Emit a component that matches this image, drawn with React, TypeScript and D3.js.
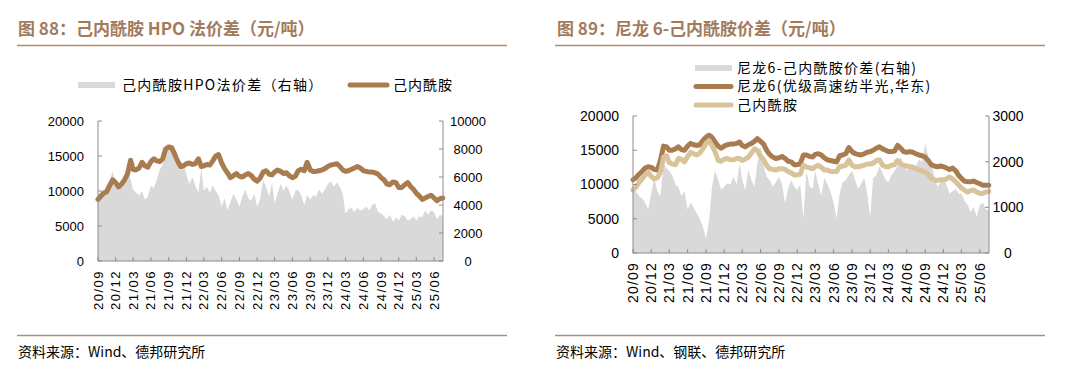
import React from "react";
import * as d3 from "d3";

// semi-monthly observations, first point 2020-09-01, then the 16th, then next month's 1st ...
const cplLeft = [
  8800, 9300, 9700, 9900, 10800, 11600, 11200, 10600, 11000, 11600,
  12500, 14400, 13100, 13000, 13300, 14100, 13600, 13400, 14200, 14600,
  14300, 14200, 14600, 16000, 16300, 16200, 15300, 14300, 13500, 13600,
  13900, 14000, 13800, 13900, 14600, 13500, 13600, 13800, 13700, 14300,
  15000, 15200, 14000, 13200, 12600, 11900, 12200, 12500, 12100, 12000,
  12300, 12500, 12200, 11700, 11400, 11800, 12700, 12900, 12400, 12300,
  12700, 13000, 12800, 12500, 12600, 12200, 11900, 12100, 12900, 13100,
  12900, 14100, 13000, 12800, 12800, 12900, 13000, 13200, 13500, 13700,
  13800, 13900, 13500, 13000, 12800, 12900, 13100, 13300, 13500, 13300,
  12900, 12800, 12700, 12700, 12600, 12400, 11900, 11600, 11000, 10900,
  11300, 11200, 10500, 10500, 10900, 11200, 10600, 10200, 9700, 9300,
  8800, 9000, 9200, 9400, 9000, 8600, 8900, 9000,
];

const hpoSpread = [
  4600, 4700, 5000, 5400, 5800, 6400, 5300, 5100, 5600, 5400,
  6900, 5800, 5100, 4900, 4700, 5000, 4400, 4600, 5400, 5200,
  5800, 6500, 6900, 7600, 8200, 7800, 7400, 6800, 6500, 6900,
  6200, 5500, 6000, 5400, 4900, 6600, 5000, 5300, 4900, 5400,
  5000, 4700, 3900, 4500, 3600, 4200, 4800, 4400, 3900, 4600,
  5100, 4500, 4300, 4800, 3900, 4400, 5800, 5300, 4600, 5600,
  4100, 4800, 5500, 5000, 5400, 5000, 4400, 5000, 5100, 4700,
  4000, 4700, 4400, 4700, 4600, 5100, 4800, 5100, 5500, 5700,
  5300, 5600, 5300, 4800, 3400, 3700, 3800, 3500, 3800, 3600,
  3700, 3900, 3600, 4000, 4100, 3500, 3400, 3200, 3000, 3300,
  2800, 3100, 2900, 3300, 3200, 2900, 3000, 3200, 2900, 3200,
  3100, 3600, 3300, 3600, 3500, 3000, 3300, 3200,
];

const nylon6 = [
  10700, 11000, 11500, 11900, 12400, 12600, 12500, 12200, 12100, 13500,
  15600, 15500, 15000, 15000, 15200, 15500, 15100, 15000, 15600, 16000,
  15800, 15700, 15800, 16400, 16900, 17200, 16900, 16200, 15600, 15300,
  15600, 15800, 15900, 15900, 16000, 16200, 15700, 15500, 15800, 16000,
  16300, 16700, 16300, 15900, 15000, 14400, 14000, 13800, 13900, 14100,
  13800, 13400, 13300, 12900, 12900, 13000, 14300, 14300, 14100, 14000,
  14400, 14500, 14300, 13900, 13600, 13500, 13400, 13300, 14200, 14300,
  14500, 15400, 14800, 14500, 14400, 14300, 14500, 14700, 14800, 15000,
  15300, 15500, 15200, 15000, 14800, 14800, 14900, 15700, 15300, 14800,
  14700, 14800, 14700, 14500, 14300, 14200, 14000, 13500, 12900, 12700,
  12600, 12700, 12600, 12400, 12200, 12400, 12000, 11300, 10900, 10500,
  10400, 10400, 10500, 10300, 10100, 9900, 9900, 9900,
];

const cplRight = [
  9200, 9600, 10300, 10800, 11400, 11800, 11200, 10800, 11000, 11800,
  14000, 14200, 13200, 13000, 12900, 13800, 13700, 13300, 14100, 14700,
  14500, 14300, 14600, 15200, 16000, 16400, 15700, 14800, 13500, 13400,
  13700, 13800, 13600, 13600, 13800, 13800, 13500, 13700, 14000, 14600,
  15200, 15000, 14100, 13600, 12800, 12300, 12200, 12100, 12300, 12300,
  12200, 11900, 11700, 11400, 11400, 11500, 12800, 12600, 12400, 12300,
  12600, 12800, 12500, 12100, 12100, 11900, 11900, 11900, 12600, 12700,
  12800, 13600, 12800, 12600, 12600, 12700, 12800, 13000, 13000, 13100,
  13500, 13600, 12800, 12600, 12600, 12800, 12900, 13500, 13000, 12800,
  12700, 12600, 12500, 12300, 12100, 12000, 11800, 11500, 10900, 10700,
  10600, 10700, 10700, 10800, 11100, 10800, 10400, 9900, 9500, 9200,
  8900, 9100, 9200, 8900, 8700, 8700, 8900, 9000,
];

const nylonSpread = [
  1400, 1350, 1250, 1200, 1100, 950, 1300, 1650, 1350, 1250,
  1950, 1850, 1800, 1700, 1500, 1450, 1250, 1350, 950, 1100,
  1000, 870, 750, 580, 320, 700, 1450, 1800, 1600, 1380,
  1450, 1530, 1500, 1670, 1500, 1960, 1600, 1380, 1820, 1600,
  1450, 1960, 2330, 1900, 1670, 1600, 1450, 1550, 1670, 1500,
  1090, 1400, 1600, 1450, 1380, 1500, 750, 1800, 1450, 1400,
  1800, 1500, 1250, 1650, 1500, 1350, 1100, 750, 1300, 1550,
  1600, 1700, 1800, 1600, 1400, 1500, 1650, 1300, 800, 1650,
  1700, 1900, 1750, 1600, 1550, 1700, 1800, 1900, 2100, 1950,
  1800, 1900, 1950, 1900, 2050, 2000, 2400, 2100, 1950, 1700,
  1450, 1550, 1650, 1500, 1300, 1350, 1400, 1300, 1300, 1150,
  1050, 900, 1000, 800, 1050, 1100, 950, 950,
];

const quarterLabels = [
  "20/09", "20/12", "21/03", "21/06", "21/09", "21/12", "22/03", "22/06",
  "22/09", "22/12", "23/03", "23/06", "23/09", "23/12", "24/03", "24/06",
  "24/09", "24/12", "25/03", "25/06",
];

const leftTicksL = [0, 5000, 10000, 15000, 20000];
const rightTicksL = [0, 2000, 4000, 6000, 8000, 10000];
const leftTicksR = [0, 5000, 10000, 15000, 20000];
const rightTicksR = [0, 1000, 2000, 3000];

const BROWN = "#a97c50";
const TAN = "#d8c39b";
const GREY = "#d9d9d9";
const TITLE = "#a27b5c";
const RULE = "#b38d6d";
const AXIS = "#8c8c8c";
const FONT = "'Liberation Sans', 'Noto Sans CJK SC', sans-serif";
const CJK = "'Noto Sans CJK SC', 'Liberation Sans', sans-serif";

const dateAt = (i: number) => new Date(2020, 8 + Math.floor(i / 2), i % 2 ? 16 : 1);
const parseQ = d3.timeParse("%y/%m");
const domainX: [Date, Date] = [new Date(2020, 8, 1), new Date(2025, 6, 17)];

type LineSpec = { values: number[]; color: string; width: number };

type PanelProps = {
  x0: number;
  x1: number;
  yTop: number;
  yBot: number;
  leftMax: number;
  rightMax: number;
  leftTicks: number[];
  rightTicks: number[];
  rightLabelX: number;
  area: number[];
  lines: LineSpec[];
  fontSize: number;
  xLabelSpacing: number;
};

function Panel(p: PanelProps) {
  const x = d3.scaleTime().domain(domainX).range([p.x0, p.x1]);
  const yL = d3.scaleLinear().domain([0, p.leftMax]).range([p.yBot, p.yTop]);
  const yR = d3.scaleLinear().domain([0, p.rightMax]).range([p.yBot, p.yTop]);

  const areaGen = d3
    .area<number>()
    .x((_, i) => x(dateAt(i)))
    .y0(yR(0))
    .y1((d) => yR(d));
  const lineGen = d3
    .line<number>()
    .x((_, i) => x(dateAt(i)))
    .y((d) => yL(d));

  return (
    <g>
      <path d={areaGen(p.area) || ""} fill={GREY} />
      {p.lines.map((l, k) => (
        <path
          key={k}
          d={lineGen(l.values) || ""}
          fill="none"
          stroke={l.color}
          strokeWidth={l.width}
          strokeLinejoin="round"
          strokeLinecap="round"
        />
      ))}
      {/* frame: left, right, bottom */}
      <line x1={p.x0} x2={p.x0} y1={p.yTop} y2={p.yBot} stroke={AXIS} />
      <line x1={p.x1} x2={p.x1} y1={p.yTop} y2={p.yBot} stroke={AXIS} />
      <line x1={p.x0} x2={p.x1} y1={p.yBot} y2={p.yBot} stroke={AXIS} />
      {p.leftTicks.map((t) => (
        <g key={"l" + t}>
          <line x1={p.x0} x2={p.x0 + 4} y1={yL(t)} y2={yL(t)} stroke={AXIS} />
          <text
            x={p.x0 - 14}
            y={yL(t)}
            dy="0.35em"
            textAnchor="end"
            fontSize={p.fontSize}
            fontFamily={FONT}
          >
            {t}
          </text>
        </g>
      ))}
      {p.rightTicks.map((t) => (
        <g key={"r" + t}>
          <line x1={p.x1 - 4} x2={p.x1} y1={yR(t)} y2={yR(t)} stroke={AXIS} />
          <text
            x={p.rightLabelX}
            y={yR(t)}
            dy="0.35em"
            textAnchor="middle"
            fontSize={p.fontSize}
            fontFamily={FONT}
          >
            {t}
          </text>
        </g>
      ))}
      {quarterLabels.map((q) => {
        const xx = x(parseQ(q)!);
        return (
          <g key={q}>
            <line x1={xx} x2={xx} y1={p.yBot} y2={p.yBot - 4} stroke={AXIS} />
            <text
              transform={`translate(${xx},${p.yBot + 9}) rotate(-90)`}
              dy="0.35em"
              textAnchor="end"
              fontSize={p.fontSize}
              letterSpacing={p.xLabelSpacing}
              fontFamily={FONT}
            >
              {q}
            </text>
          </g>
        );
      })}
    </g>
  );
}

export default function App() {
  return (
    <div style={{ position: "absolute", left: 0, top: 0 }}>
      <svg width={1080} height={374} style={{ display: "block", background: "#fff" }}>
        {/* titles */}
        <text x={18} y={35} fill={TITLE} fontSize={17} fontWeight="bold" fontFamily={CJK}>
          图 88：己内酰胺 HPO 法价差（元/吨）
        </text>
        <line x1={17} x2={507} y1={45.5} y2={45.5} stroke={RULE} strokeWidth={1.5} />
        <text x={557} y={35} fill={TITLE} fontSize={17} fontWeight="bold" fontFamily={CJK}>
          图 89：尼龙 6-己内酰胺价差（元/吨）
        </text>
        <line x1={555} x2={1045} y1={45.5} y2={45.5} stroke={RULE} strokeWidth={1.5} />

        {/* left legend */}
        <rect x={78} y={82} width={37} height={6} fill={GREY} />
        <text x={122} y={85} dy="0.35em" fontSize={14} fontFamily={CJK} letterSpacing={1.3}>
          己内酰胺HPO法价差（右轴）
        </text>
        <line x1={350} x2={387} y1={85} y2={85} stroke={BROWN} strokeWidth={5} strokeLinecap="round" />
        <text x={393} y={85} dy="0.35em" fontSize={14} fontFamily={CJK} letterSpacing={1}>
          己内酰胺
        </text>

        {/* right legend */}
        <rect x={695} y={65} width={37} height={6} fill={GREY} />
        <text x={737} y={68} dy="0.35em" fontSize={14} fontFamily={CJK} letterSpacing={1.3}>
          尼龙6-己内酰胺价差(右轴)
        </text>
        <line x1={696} x2={731} y1={86.5} y2={86.5} stroke={BROWN} strokeWidth={5} strokeLinecap="round" />
        <text x={737} y={86.5} dy="0.35em" fontSize={14} fontFamily={CJK} letterSpacing={1.3}>
          尼龙6(优级高速纺半光,华东)
        </text>
        <line x1={696} x2={731} y1={105} y2={105} stroke={TAN} strokeWidth={5} strokeLinecap="round" />
        <text x={737} y={105} dy="0.35em" fontSize={14} fontFamily={CJK} letterSpacing={1.3}>
          己内酰胺
        </text>

        <Panel
          x0={98}
          x1={443}
          yTop={121}
          yBot={261}
          leftMax={20000}
          rightMax={10000}
          leftTicks={leftTicksL}
          rightTicks={rightTicksL}
          rightLabelX={468}
          area={hpoSpread}
          lines={[{ values: cplLeft, color: BROWN, width: 5 }]}
          fontSize={13}
          xLabelSpacing={1.5}
        />
        <Panel
          x0={633}
          x1={989}
          yTop={116}
          yBot={253}
          leftMax={20000}
          rightMax={3000}
          leftTicks={leftTicksR}
          rightTicks={rightTicksR}
          rightLabelX={1008}
          area={nylonSpread}
          lines={[
            { values: nylon6, color: BROWN, width: 5 },
            { values: cplRight, color: TAN, width: 5 },
          ]}
          fontSize={14}
          xLabelSpacing={1.2}
        />

        {/* footers */}
        <line x1={17} x2={507} y1={335.5} y2={335.5} stroke={RULE} strokeWidth={1.5} />
        <text x={18} y={352} dy="0.35em" fontSize={14} fontFamily={CJK}>
          资料来源：Wind、德邦研究所
        </text>
        <line x1={555} x2={1045} y1={335.5} y2={335.5} stroke={RULE} strokeWidth={1.5} />
        <text x={556} y={352} dy="0.35em" fontSize={14} fontFamily={CJK}>
          资料来源：Wind、钢联、德邦研究所
        </text>
      </svg>
    </div>
  );
}
